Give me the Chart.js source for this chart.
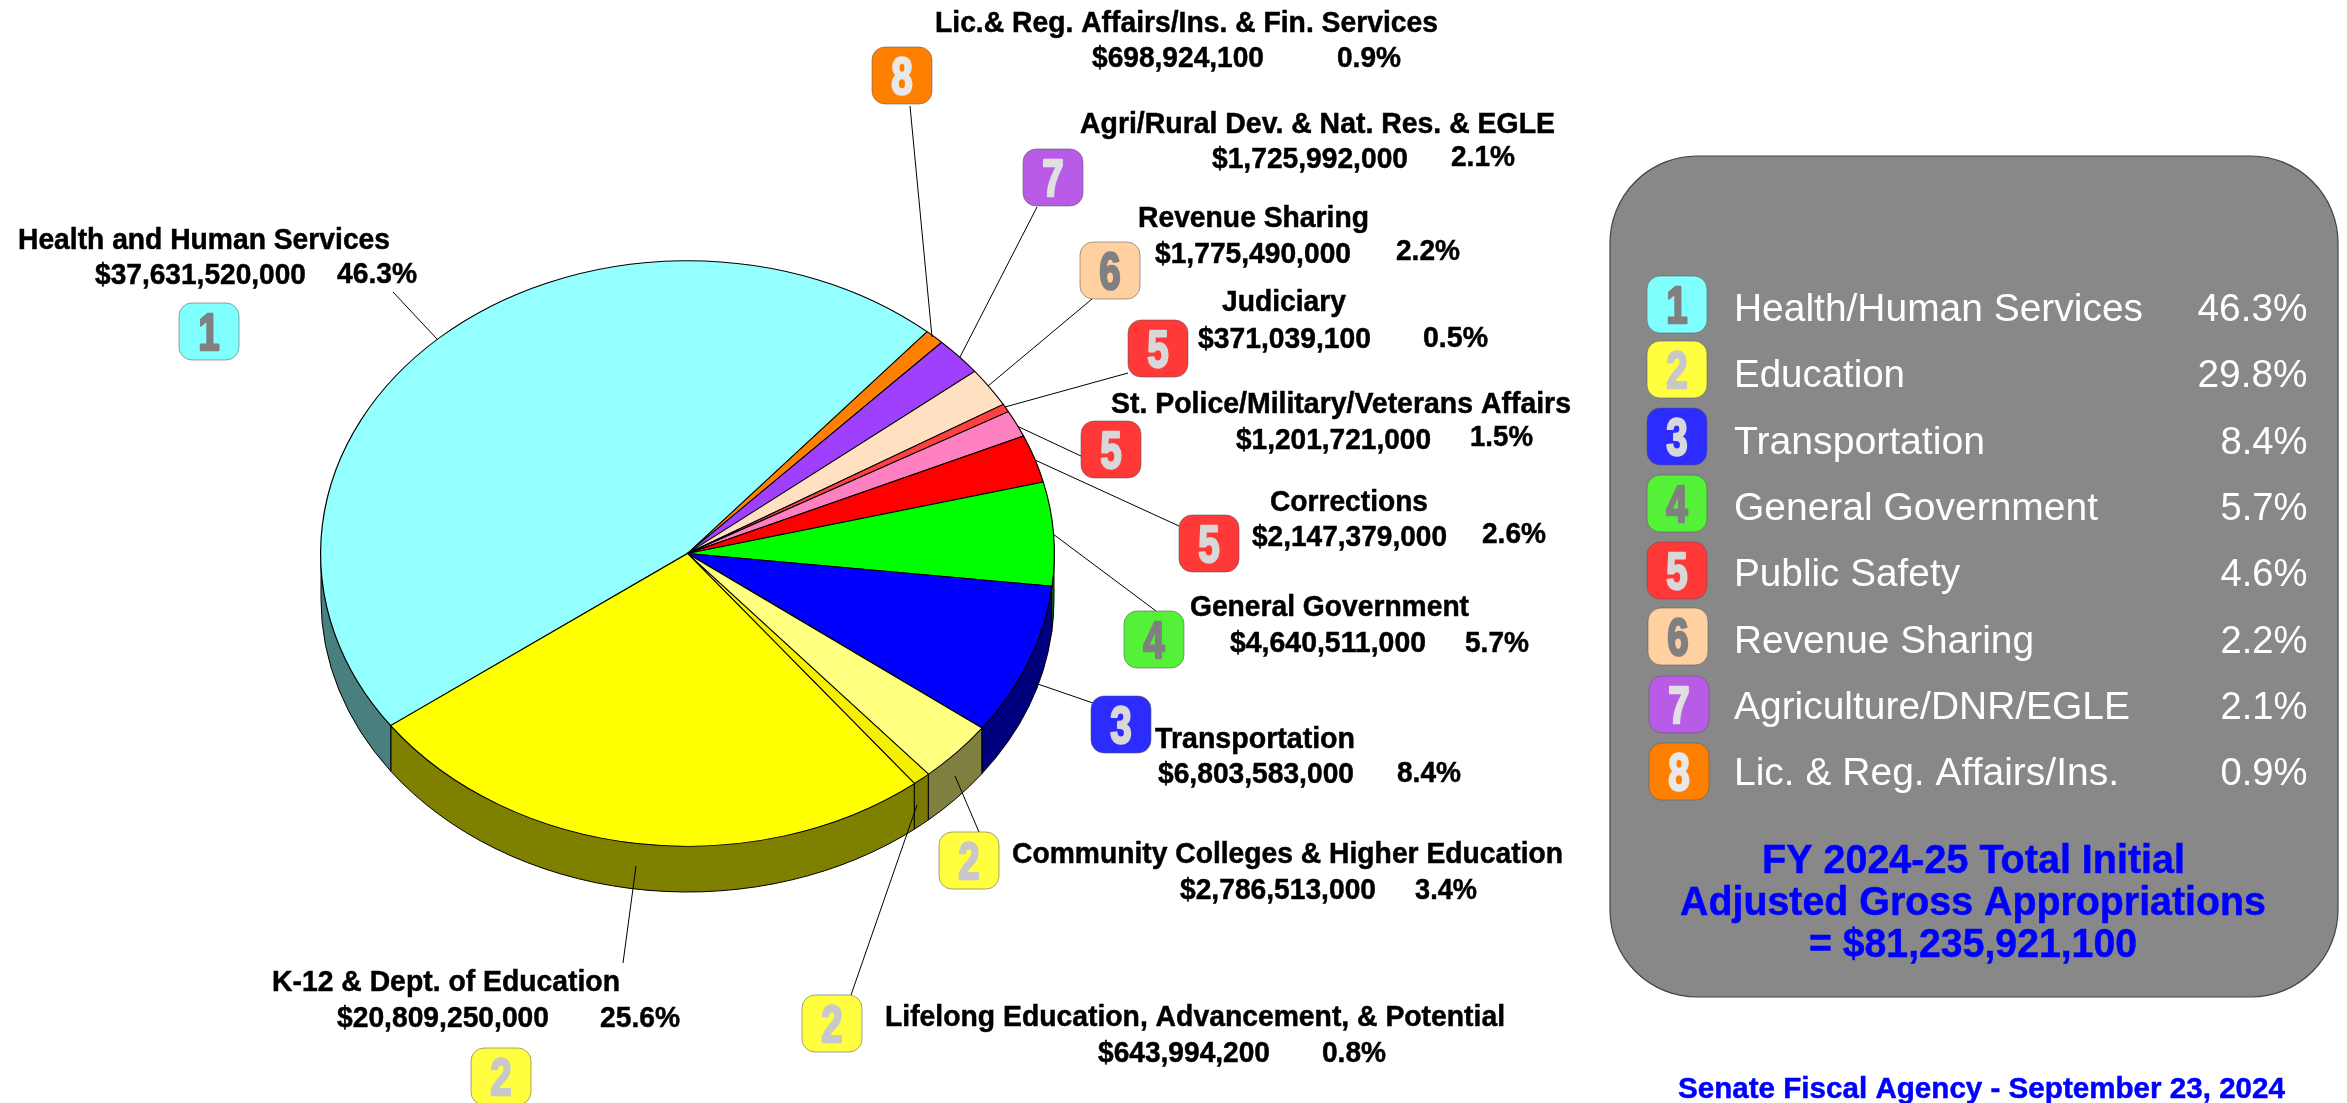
<!DOCTYPE html>
<html>
<head>
<meta charset="utf-8">
<title>FY 2024-25 Total Initial Adjusted Gross Appropriations</title>
<script src="https://cdn.jsdelivr.net/npm/chart.js@4"></script>
<style>
  html, body { margin: 0; padding: 0; background: #fff; overflow: hidden; }
  canvas { display: block; }
</style>
</head>
<body>
<canvas id="chart" width="2347" height="1103"></canvas>
<script>
  // slices, clockwise from the K-12 / Health boundary
  var categories = [
    "Health and Human Services",
    "Lic.& Reg. Affairs/Ins. & Fin. Services",
    "Agri/Rural Dev. & Nat. Res. & EGLE",
    "Revenue Sharing",
    "Judiciary",
    "St. Police/Military/Veterans Affairs",
    "Corrections",
    "General Government",
    "Transportation",
    "Community Colleges & Higher Education",
    "Lifelong Education, Advancement, & Potential",
    "K-12 & Dept. of Education"
  ];
  var amounts = [37631520000, 698924100, 1725992000, 1775490000, 371039100, 1201721000,
    2147379000, 4640511000, 6803583000, 2786513000, 643994200, 20809250000];
  var amountLabels = ["$37,631,520,000", "$698,924,100", "$1,725,992,000", "$1,775,490,000",
    "$371,039,100", "$1,201,721,000", "$2,147,379,000", "$4,640,511,000", "$6,803,583,000",
    "$2,786,513,000", "$643,994,200", "$20,809,250,000"];
  var percentLabels = ["46.3%", "0.9%", "2.1%", "2.2%", "0.5%", "1.5%", "2.6%", "5.7%",
    "8.4%", "3.4%", "0.8%", "25.6%"];
  var sliceGroups = [1, 8, 7, 6, 5, 5, 5, 4, 3, 2, 2, 2];

  var legendNames = ["Health/Human Services", "Education", "Transportation", "General Government",
    "Public Safety", "Revenue Sharing", "Agriculture/DNR/EGLE", "Lic. & Reg. Affairs/Ins."];
  var legendPercents = ["46.3%", "29.8%", "8.4%", "5.7%", "4.6%", "2.2%", "2.1%", "0.9%"];
  var totalLines = ["FY 2024-25 Total Initial", "Adjusted Gross Appropriations", "= $81,235,921,100"];
  var footerText = "Senate Fiscal Agency - September 23, 2024";

  // styles
  var sliceColors = ["#94FFFF", "#FF8000", "#A040FF", "#FFE0C0", "#FF4040", "#FF80C0",
    "#FF0000", "#00FF00", "#0000FF", "#FFFF80", "#F5F000", "#FFFF00"];
  var badgeColors = { 1: "#80FFFF", 2: "#FFFF40", 3: "#2C2CFF", 4: "#55F038", 5: "#FF3838", 6: "#FFD0A0", 7: "#B85CE8", 8: "#FF8000" };
  var digitColors = { 1: "#808080", 2: "#C8C8C8", 3: "#D8D8D8", 4: "#808080", 5: "#D8D8D8", 6: "#808080", 7: "#E0E0E0", 8: "#E8E8E8" };

  // pie placement on the page
  var pieX = 687.5, pieY = 553.5, pieRx = 366.5, pieRy = 292.5, pieDepth = 46;

  // text boxes for each slice: [x, width, baseline]
  var nameBoxes = [[18, 372, 249], [935, 503, 32], [1080, 475, 133], [1138, 231, 227], [1222, 124, 311],
    [1111, 460, 413], [1270, 158, 511], [1190, 279, 616], [1155, 200, 748], [1012, 551, 863], [885, 620, 1026], [272, 348, 991]];
  var amountBoxes = [[95, 211, 284], [1092, 172, 67], [1212, 196, 168], [1155, 196, 263], [1198, 173, 348],
    [1236, 195, 449], [1252, 195, 546], [1230, 196, 652], [1158, 196, 783], [1180, 196, 899], [1098, 172, 1062], [337, 212, 1027]];
  var percentBoxes = [[337, 80, 283], [1337, 64, 67], [1451, 64, 166], [1396, 64, 260], [1423, 65, 347],
    [1470, 63, 446], [1482, 64, 543], [1465, 64, 652], [1397, 64, 782], [1415, 62, 899], [1322, 64, 1062], [600, 80, 1027]];
  // badge [x, y] for each slice, all 60x58
  var badgeBoxes = [[179, 303], [872, 47], [1023, 149], [1080, 242], [1128, 320],
    [1081, 421], [1179, 515], [1124, 611], [1091, 696], [939, 832], [802, 995], [471, 1048]];
  // leader lines [x1, y1, x2, y2]
  var leaders = [[393, 292, 437, 339], [910, 106, 932, 337], [1037, 207, 960, 357], [1092, 299, 988, 386],
    [1128, 373, 1005, 407], [1081, 456, 1017, 426], [1179, 526, 1035, 460], [1156, 611, 1053, 534],
    [1093, 703, 1029, 681], [979, 832, 955, 776], [851, 995, 917, 805], [623, 963, 636, 866]];

  var legendBadgeX = [1647, 1647, 1647, 1647, 1647, 1648, 1649, 1649];
  var legendBadgeY = [276, 341, 408, 475, 542, 608, 676, 743];
  var legendBaselines = [321, 387, 454, 520, 586, 653, 719, 785];
  var legendWidths = [409, 171, 251, 364, 226, 300, 396, 385];
  var legendPercentWidths = [110, 110, 87, 87, 87, 87, 87, 87];
  var totalBoxes = [[1762, 423, 873], [1680, 586, 915], [1809, 328, 957]];

  function halfColor(hex) {
    var n = parseInt(hex.slice(1), 16);
    return "rgb(" + ((n >> 16) >> 1) + "," + (((n >> 8) & 255) >> 1) + "," + ((n & 255) >> 1) + ")";
  }

  // squeeze or stretch a string to the width it has in the picture
  function fitText(ctx, text, x, baseline, width, font, color, heavy) {
    ctx.save();
    ctx.font = font;
    ctx.fillStyle = color;
    ctx.textAlign = "left";
    ctx.textBaseline = "alphabetic";
    var w = ctx.measureText(text).width;
    ctx.translate(x, baseline);
    ctx.scale(width / w, 1);
    ctx.fillText(text, 0, 0);
    if (heavy) {
      ctx.strokeStyle = color;
      ctx.lineWidth = heavy;
      ctx.strokeText(text, 0, 0);
    }
    ctx.restore();
  }

  function drawBadge(ctx, x, y, group) {
    ctx.save();
    ctx.beginPath();
    ctx.roundRect(x, y, 60, 57, 13);
    ctx.fillStyle = badgeColors[group];
    ctx.fill();
    ctx.strokeStyle = "rgba(90,90,90,0.55)";
    ctx.lineWidth = 1;
    ctx.stroke();
    ctx.font = "bold 52px 'Liberation Sans'";
    ctx.textAlign = "center";
    ctx.textBaseline = "alphabetic";
    ctx.translate(x + 30, y + 47);
    ctx.scale(0.74, 1);
    ctx.fillStyle = digitColors[group];
    ctx.strokeStyle = digitColors[group];
    ctx.lineWidth = 2.5;
    ctx.lineJoin = "round";
    ctx.strokeText(String(group), 0, 0);
    ctx.fillText(String(group), 0, 0);
    ctx.restore();
  }

  // side wall of the pie plus the flattening of the top face
  var tiltPlugin = {
    id: "tilt",
    beforeDatasetsDraw: function(chart) {
      var ctx = chart.ctx;
      var arcs = chart.getDatasetMeta(0).data;
      var twoPi = Math.PI * 2;
      ctx.save();
      arcs.forEach(function(arc, i) {
        var a0 = ((arc.startAngle % twoPi) + twoPi) % twoPi;
        var a1 = a0 + (arc.endAngle - arc.startAngle);
        [0, twoPi].forEach(function(turn) {
          var from = Math.max(a0, turn);
          var to = Math.min(a1, turn + Math.PI);
          if (to <= from) return;
          ctx.beginPath();
          ctx.ellipse(pieX, pieY, pieRx, pieRy, 0, from, to);
          ctx.ellipse(pieX, pieY + pieDepth, pieRx, pieRy, 0, to, from, true);
          ctx.closePath();
          ctx.fillStyle = halfColor(sliceColors[i]);
          ctx.fill();
          ctx.strokeStyle = "#000";
          ctx.lineWidth = 1;
          ctx.stroke();
        });
      });
      ctx.restore();

      var first = arcs[0];
      ctx.save();
      ctx.translate(pieX, pieY);
      ctx.scale(1, pieRy / pieRx);
      ctx.translate(-first.x, -first.y);
    },
    afterDatasetsDraw: function(chart) {
      chart.ctx.restore();
    }
  };

  var labelsPlugin = {
    id: "labels",
    afterDraw: function(chart) {
      var ctx = chart.ctx;
      var i;

      ctx.save();
      ctx.strokeStyle = "#000";
      ctx.lineWidth = 1;
      for (i = 0; i < leaders.length; i++) {
        ctx.beginPath();
        ctx.moveTo(leaders[i][0], leaders[i][1]);
        ctx.lineTo(leaders[i][2], leaders[i][3]);
        ctx.stroke();
      }
      ctx.restore();

      var labelFont = "bold 30px 'Liberation Sans'";
      for (i = 0; i < categories.length; i++) {
        drawBadge(ctx, badgeBoxes[i][0], badgeBoxes[i][1], sliceGroups[i]);
        fitText(ctx, categories[i], nameBoxes[i][0], nameBoxes[i][2], nameBoxes[i][1], labelFont, "#000", 0.5);
        fitText(ctx, amountLabels[i], amountBoxes[i][0], amountBoxes[i][2], amountBoxes[i][1], labelFont, "#000", 0.5);
        fitText(ctx, percentLabels[i], percentBoxes[i][0], percentBoxes[i][2], percentBoxes[i][1], labelFont, "#000", 0.5);
      }

      // grey legend panel
      ctx.save();
      ctx.beginPath();
      ctx.roundRect(1610, 156, 728, 841, 87);
      ctx.fillStyle = "#888888";
      ctx.fill();
      ctx.strokeStyle = "#444";
      ctx.lineWidth = 1.2;
      ctx.stroke();
      ctx.restore();

      var legendFont = "38px 'Liberation Sans'";
      for (i = 0; i < legendNames.length; i++) {
        drawBadge(ctx, legendBadgeX[i], legendBadgeY[i], i + 1);
        fitText(ctx, legendNames[i], 1734, legendBaselines[i], legendWidths[i], legendFont, "#fff");
        fitText(ctx, legendPercents[i], 2307.5 - legendPercentWidths[i], legendBaselines[i], legendPercentWidths[i], legendFont, "#fff");
      }

      var totalFont = "bold 40px 'Liberation Sans'";
      for (i = 0; i < totalLines.length; i++) {
        fitText(ctx, totalLines[i], totalBoxes[i][0], totalBoxes[i][2], totalBoxes[i][1], totalFont, "#0000FF", 0.5);
      }
      fitText(ctx, footerText, 1678, 1098, 607, "bold 30px 'Liberation Sans'", "#0000FF", 0.5);
    }
  };

  var W = 2347, H = 1103;
  var ctx = document.getElementById("chart").getContext("2d");
  var chart = new Chart(ctx, {
    type: "pie",
    data: {
      labels: categories,
      datasets: [{
        data: amounts,
        backgroundColor: sliceColors,
        borderColor: "#000",
        borderWidth: 1.2
      }]
    },
    options: {
      responsive: false,
      animation: false,
      rotation: 234,
      layout: {
        padding: { left: pieX - pieRx - 1, right: W - pieX - pieRx - 1, top: 100, bottom: 100 }
      },
      plugins: {
        legend: { display: false },
        tooltip: { enabled: false }
      }
    },
    plugins: [tiltPlugin, labelsPlugin]
  });
</script>
</body>
</html>
